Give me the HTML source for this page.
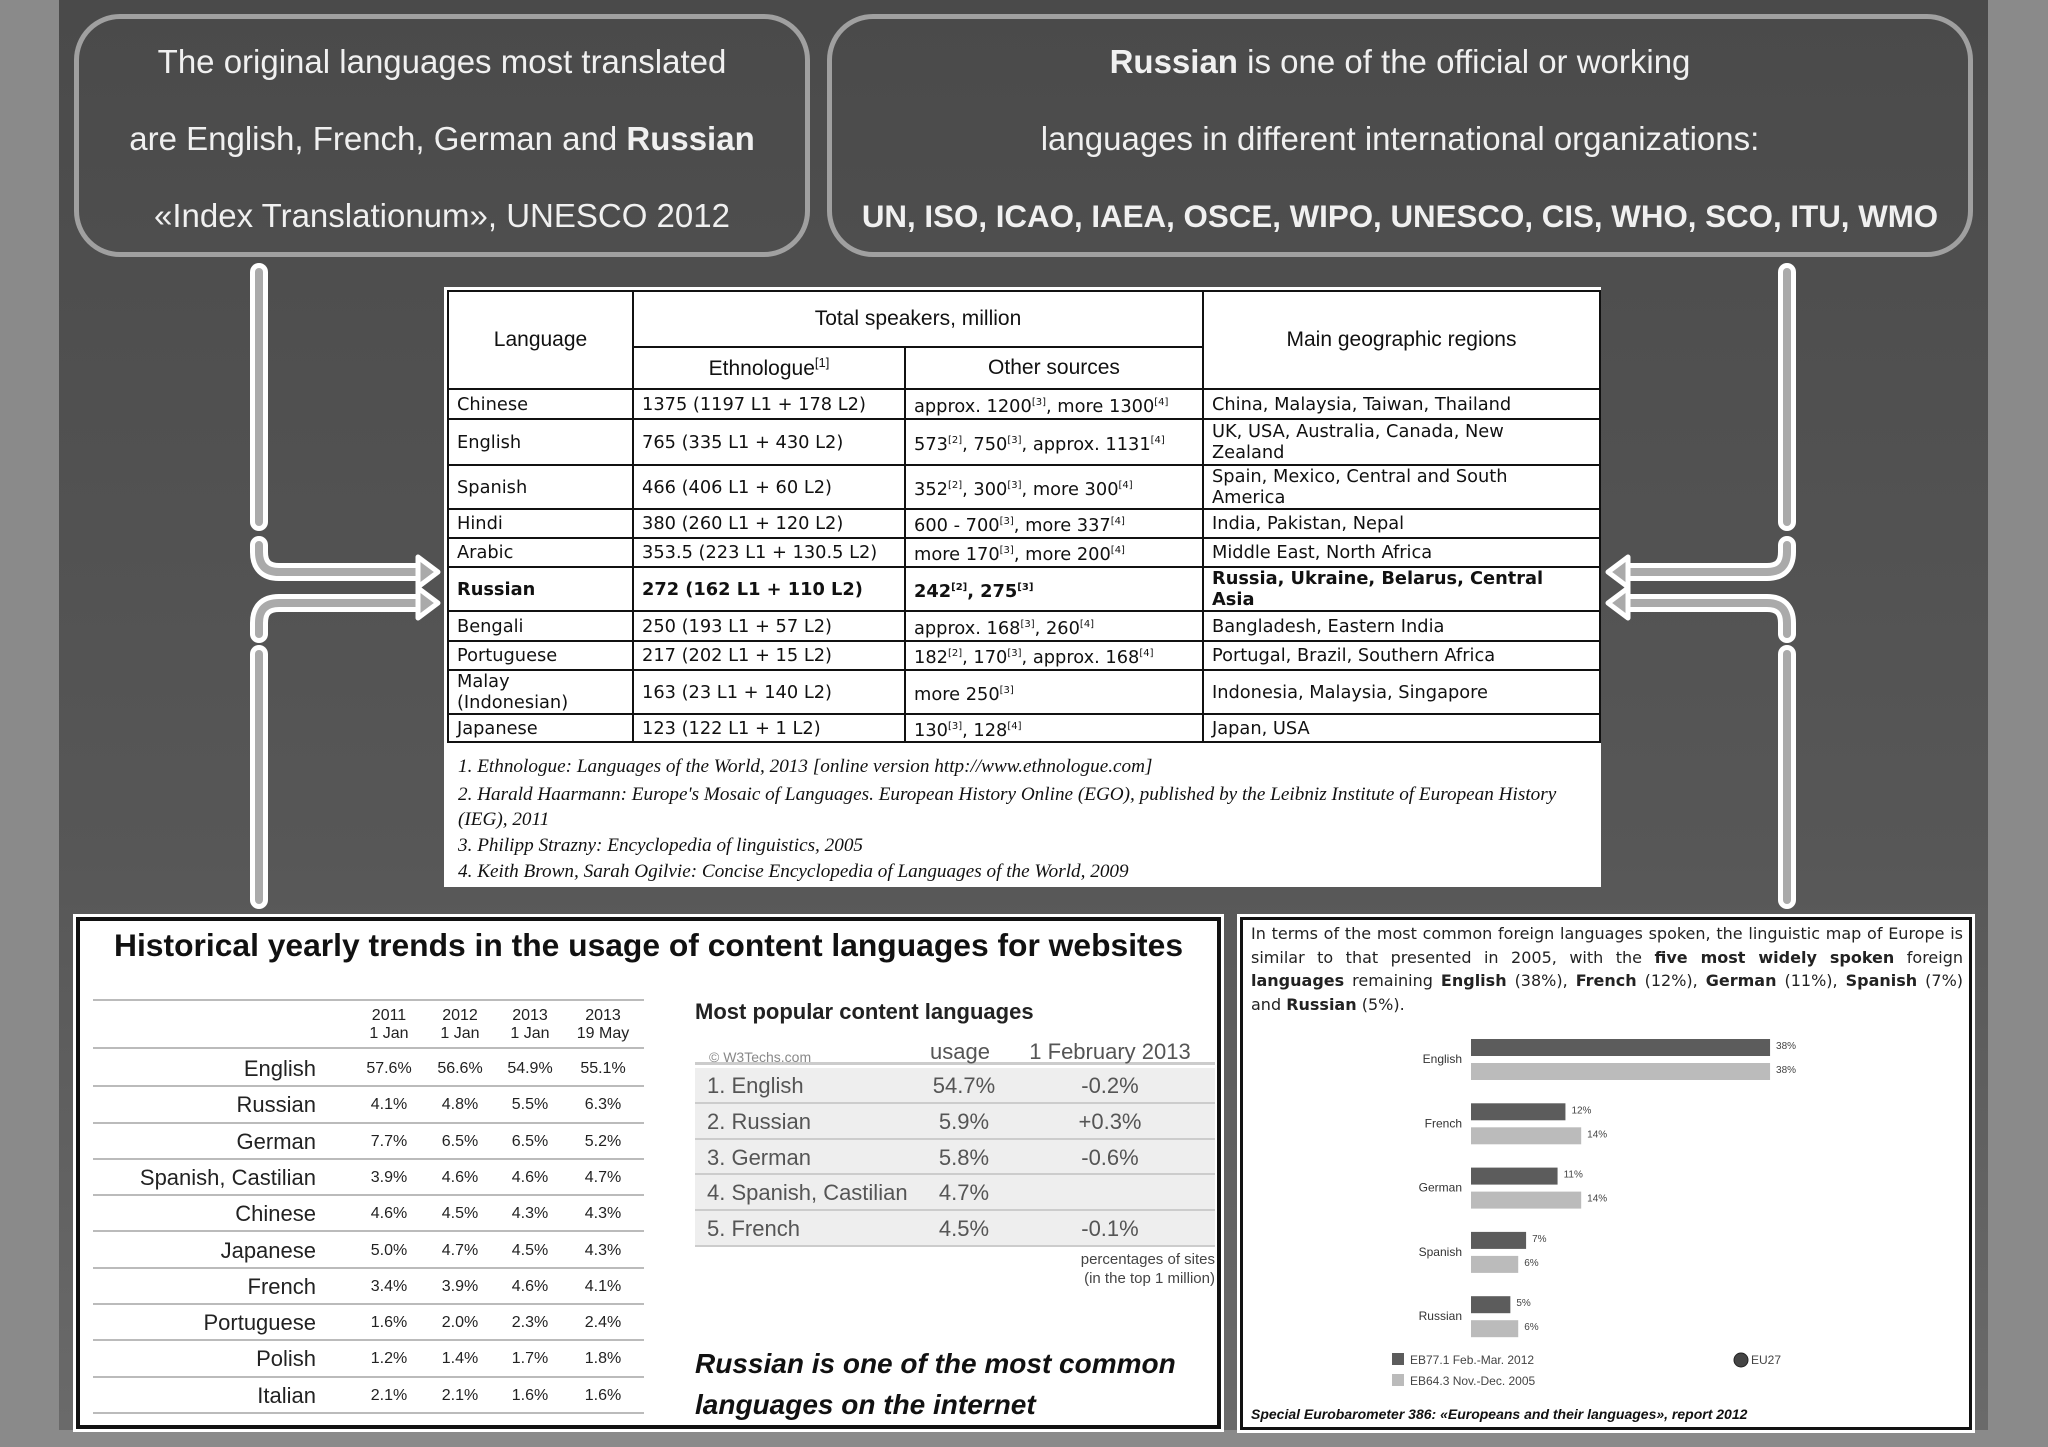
<!DOCTYPE html>
<html><head><meta charset="utf-8">
<style>
*{margin:0;padding:0;box-sizing:border-box}
body{width:2048px;height:1447px;background:#8a8a8a;position:relative;overflow:hidden;font-family:"Liberation Sans",sans-serif}
.abs{position:absolute}
#bg{left:59px;top:0;width:1929px;height:1430px;background:linear-gradient(#4a4a4a,#575757 60%,#6a6a6a)}
.tbox{border:5px solid #a0a0a0;border-radius:46px;color:#f0f0f0;font-size:33px;text-align:center}
.tbox div{position:absolute;left:0;right:0;white-space:nowrap}
#main{left:444px;top:287px;width:1157px;height:600px;background:#fff}
#lt{position:absolute;left:3px;top:3px;border-collapse:collapse;table-layout:fixed;font-family:"DejaVu Sans",sans-serif;font-size:17.8px;color:#111}
#lt td{border:2px solid #111;padding:0 8px;line-height:21px;vertical-align:middle;overflow:hidden}
#lt td.rg{padding-right:50px}
#lt th{border:2px solid #111;font-family:"Liberation Sans",sans-serif;font-weight:normal;font-size:21px}
#lt sup{font-size:10px}
#lt tr.ru td{font-weight:bold;border-top:2px dashed #111;border-bottom:2px dashed #111}
.fn{position:absolute;left:14px;font-style:italic;font-size:19.2px;color:#111;font-family:"Liberation Serif",serif;white-space:nowrap}
#bl{left:76px;top:917px;width:1145px;height:512px;background:#fff;border:4px solid #111;outline:3px solid #fff}
#br{left:1240px;top:917px;width:732px;height:513px;background:#fff;border:3px solid #111;outline:3px solid #fff}
.tr{position:absolute;left:13px;width:551px;height:36.3px;border-bottom:2px solid #bbb;font-size:16px;color:#222}
.tr span{position:absolute;top:9px;width:70px;text-align:center}
.tr .lab{left:0;width:223px;text-align:right;font-size:22px;top:5px;color:#222}
.pr{position:absolute;left:615px;width:520px;height:35.8px;background:#eee;border-bottom:2px solid #ccc;font-size:22px;color:#555}
.pr span{position:absolute;top:5px}
</style></head><body>
<div id="bg" class="abs"></div>

<div class="abs tbox" style="left:74px;top:14px;width:736px;height:243px">
<div style="top:24px">The original languages most translated</div>
<div style="top:101px">are English, French, German and <b>Russian</b></div>
<div style="top:178px">«Index Translationum», UNESCO 2012</div>
</div>
<div class="abs tbox" style="left:827px;top:14px;width:1146px;height:243px">
<div style="top:24px"><b>Russian</b> is one of the official or working</div>
<div style="top:101px">languages in different international organizations:</div>
<div style="top:180px;font-weight:bold;font-size:31.3px">UN, ISO, ICAO, IAEA, OSCE, WIPO, UNESCO, CIS, WHO, SCO, ITU, WMO</div>
</div>

<svg class="abs" style="left:0;top:0" width="2048" height="1447">
<g fill="none" stroke-linecap="round" stroke-linejoin="round">
<g stroke="#fff" stroke-width="18">
<path d="M259 272V522"/><path d="M259 545V552Q259 572 279 572H420"/><path d="M420 603H279Q259 603 259 623V634"/><path d="M259 654V900"/>
<path d="M1787 272V522"/><path d="M1787 545V552Q1787 572 1767 572H1626"/><path d="M1626 603H1767Q1787 603 1787 623V634"/><path d="M1787 654V900"/>
</g>
<g stroke="#aaa" stroke-width="8">
<path d="M259 272V522"/><path d="M259 545V552Q259 572 279 572H420"/><path d="M420 603H279Q259 603 259 623V634"/><path d="M259 654V900"/>
<path d="M1787 272V522"/><path d="M1787 545V552Q1787 572 1767 572H1626"/><path d="M1626 603H1767Q1787 603 1787 623V634"/><path d="M1787 654V900"/>
</g></g>
<g fill="#aaa" stroke="#fff" stroke-width="5" stroke-linejoin="round">
<polygon points="418,557 438,572 418,587"/><polygon points="418,588 438,603 418,618"/>
<polygon points="1628,557 1608,572 1628,587"/><polygon points="1628,588 1608,603 1628,618"/>
</g>
</svg>

<div id="main" class="abs">
<table id="lt">
<colgroup><col style="width:185px"><col style="width:272px"><col style="width:298px"><col style="width:397px"></colgroup>
<tr style="height:56px"><th rowspan="2">Language</th><th colspan="2">Total speakers, million</th><th rowspan="2">Main geographic regions</th></tr>
<tr style="height:42px"><th>Ethnologue<sup style="font-size:13px">[1]</sup></th><th>Other sources</th></tr>
<tr style="height:30px"><td>Chinese</td><td>1375 (1197 L1 + 178 L2)</td><td>approx. 1200<sup>[3]</sup>, more 1300<sup>[4]</sup></td><td class="rg">China, Malaysia, Taiwan, Thailand</td></tr>
<tr style="height:46px"><td>English</td><td>765 (335 L1 + 430 L2)</td><td>573<sup>[2]</sup>, 750<sup>[3]</sup>, approx. 1131<sup>[4]</sup></td><td class="rg">UK, USA, Australia, Canada, New Zealand</td></tr>
<tr style="height:44px"><td>Spanish</td><td>466 (406 L1 + 60 L2)</td><td>352<sup>[2]</sup>, 300<sup>[3]</sup>, more 300<sup>[4]</sup></td><td class="rg">Spain, Mexico, Central and South America</td></tr>
<tr style="height:29px"><td>Hindi</td><td>380 (260 L1 + 120 L2)</td><td>600 - 700<sup>[3]</sup>, more 337<sup>[4]</sup></td><td class="rg">India, Pakistan, Nepal</td></tr>
<tr style="height:29px"><td>Arabic</td><td>353.5 (223 L1 + 130.5 L2)</td><td>more 170<sup>[3]</sup>, more 200<sup>[4]</sup></td><td class="rg">Middle East, North Africa</td></tr>
<tr class="ru" style="height:44px"><td>Russian</td><td>272 (162 L1 + 110 L2)</td><td>242<sup>[2]</sup>, 275<sup>[3]</sup></td><td class="rg">Russia, Ukraine, Belarus, Central Asia</td></tr>
<tr style="height:30px"><td>Bengali</td><td>250 (193 L1 + 57 L2)</td><td>approx. 168<sup>[3]</sup>, 260<sup>[4]</sup></td><td class="rg">Bangladesh, Eastern India</td></tr>
<tr style="height:29px"><td>Portuguese</td><td>217 (202 L1 + 15 L2)</td><td>182<sup>[2]</sup>, 170<sup>[3]</sup>, approx. 168<sup>[4]</sup></td><td class="rg">Portugal, Brazil, Southern Africa</td></tr>
<tr style="height:44px"><td>Malay (Indonesian)</td><td>163 (23 L1 + 140 L2)</td><td>more 250<sup>[3]</sup></td><td class="rg">Indonesia, Malaysia, Singapore</td></tr>
<tr style="height:28px"><td>Japanese</td><td>123 (122 L1 + 1 L2)</td><td>130<sup>[3]</sup>, 128<sup>[4]</sup></td><td class="rg">Japan, USA</td></tr>
</table>
<div class="fn" style="top:469px">1. Ethnologue: Languages of the World, 2013 [online version http://www.ethnologue.com]</div>
<div class="fn" style="top:497px">2. Harald Haarmann: Europe's Mosaic of Languages. European History Online (EGO), published by the Leibniz Institute of European History</div>
<div class="fn" style="top:522px">(IEG), 2011</div>
<div class="fn" style="top:548px">3. Philipp Strazny: Encyclopedia of linguistics, 2005</div>
<div class="fn" style="top:574px">4. Keith Brown, Sarah Ogilvie: Concise Encyclopedia of Languages of the World, 2009</div>
</div>

<div id="bl" class="abs">
<div class="abs" style="left:34px;top:6px;font-size:31.8px;font-weight:bold;color:#111;white-space:nowrap">Historical yearly trends in the usage of content languages for websites</div>
<div class="abs" style="left:13px;top:78px;width:551px;height:50px;border-top:2px solid #bbb;border-bottom:2px solid #bbb;font-size:16px;color:#222">
<span class="abs" style="left:261px;top:6px;width:70px;text-align:center">2011<br>1 Jan</span>
<span class="abs" style="left:332px;top:6px;width:70px;text-align:center">2012<br>1 Jan</span>
<span class="abs" style="left:402px;top:6px;width:70px;text-align:center">2013<br>1 Jan</span>
<span class="abs" style="left:475px;top:6px;width:70px;text-align:center">2013<br>19 May</span>
</div>
<div id="trows"></div>
<div class="abs" style="left:615px;top:78px;font-size:22px;font-weight:bold;color:#222">Most popular content languages</div>
<div class="abs" style="left:615px;top:122px;width:520px;height:22px;border-bottom:3px solid #ccc;color:#555">
<span class="abs" style="left:14px;top:6px;font-size:14px;color:#888">© W3Techs.com</span>
<span class="abs" style="left:200px;top:-4px;width:130px;text-align:center;font-size:22px">usage</span>
<span class="abs" style="left:310px;top:-4px;width:210px;text-align:center;font-size:22px">1 February 2013</span>
</div>
<div id="prows"></div>
<div class="abs" style="left:835px;top:329px;width:300px;text-align:right;font-size:15px;color:#444;line-height:19px">percentages of sites<br>(in the top 1 million)</div>
<div class="abs" style="left:615px;top:422px;font-size:28px;font-weight:bold;font-style:italic;color:#111;line-height:41px">Russian is one of the most common<br>languages on the internet</div>
</div>

<div id="br" class="abs">
<div class="abs" style="left:8px;top:2px;width:712px;font-family:'DejaVu Sans',sans-serif;font-size:16px;line-height:23.5px;text-align:justify;color:#222">In terms of the most common foreign languages spoken, the linguistic map of Europe is similar to that presented in 2005, with the <b>five most widely spoken</b> foreign <b>languages</b> remaining <b>English</b> (38%), <b>French</b> (12%), <b>German</b> (11%), <b>Spanish</b> (7%) and <b>Russian</b> (5%).</div>
<svg id="chart" class="abs" style="left:0;top:0" width="726" height="507"></svg>
<div class="abs" style="left:8px;top:486px;font-size:14px;font-weight:bold;font-style:italic;color:#111;white-space:nowrap">Special Eurobarometer 386: «Europeans and their languages», report 2012</div>
</div>

<script>
// trends table data
const tLangs=['English','Russian','German','Spanish, Castilian','Chinese','Japanese','French','Portuguese','Polish','Italian'];
const t2011=['57.6%','4.1%','7.7%','3.9%','4.6%','5.0%','3.4%','1.6%','1.2%','2.1%'];
const t2012=['56.6%','4.8%','6.5%','4.6%','4.5%','4.7%','3.9%','2.0%','1.4%','2.1%'];
const t2013=['54.9%','5.5%','6.5%','4.6%','4.3%','4.5%','4.6%','2.3%','1.7%','1.6%'];
const t2013m=['55.1%','6.3%','5.2%','4.7%','4.3%','4.3%','4.1%','2.4%','1.8%','1.6%'];
const pLangs=['1. English','2. Russian','3. German','4. Spanish, Castilian','5. French'];
const pUsage=['54.7%','5.9%','5.8%','4.7%','4.5%'];
const pChange=['-0.2%','+0.3%','-0.6%','','-0.1%'];
// bar chart data
const cats=['English','French','German','Spanish','Russian'];
const v2012=[38,12,11,7,5];
const v2005=[38,14,14,6,6];

const tr=document.getElementById('trows');
const cols=[261,332,402,475];
tLangs.forEach((l,i)=>{
  const r=document.createElement('div');
  r.className='tr';r.style.top=(130+i*36.3)+'px';
  
  
  let h='<span class="lab">'+l+'</span>';
  [t2011,t2012,t2013,t2013m].forEach((a,j)=>{h+='<span style="left:'+cols[j]+'px">'+a[i]+'</span>';});
  r.innerHTML=h;tr.appendChild(r);
});
const pr=document.getElementById('prows');
pLangs.forEach((l,i)=>{
  const r=document.createElement('div');
  r.className='pr';r.style.top=(147+i*35.8)+'px';
  
  
  r.innerHTML='<span style="left:12px">'+l+'</span><span style="left:204px;width:130px;text-align:center">'+pUsage[i]+'</span><span style="left:310px;width:210px;text-align:center">'+pChange[i]+'</span>';
  pr.appendChild(r);
});

const svg=document.getElementById('chart');
const NS='http://www.w3.org/2000/svg';
const x0=228, pxPer=7.87, y0=119, gStep=64.3, bh=17;
const xs=v=>x0+v*pxPer;
function mk(tag,attrs){const e=document.createElementNS(NS,tag);for(const k in attrs)e.setAttribute(k,attrs[k]);svg.appendChild(e);return e;}
cats.forEach((c,i)=>{
  const gy=y0+i*gStep;
  const t=mk('text',{x:x0-9,y:gy+24,'text-anchor':'end','font-size':12,fill:'#333','font-family':'Liberation Sans'});
  t.textContent=c;
  
  
  [[v2012,'#5c5c5c',0],[v2005,'#bbb',24]].forEach(([arr,col,off])=>{
    const b=mk('rect',{x:x0,y:gy+off,width:xs(arr[i])-x0,height:bh,fill:col});
    
    
    const lt=mk('text',{x:xs(arr[i])+6,y:gy+off+10,'font-size':10,fill:'#444','font-family':'Liberation Sans'});
    lt.textContent=arr[i]+'%';
    
    
  });
});
const l1=mk('rect',{x:149,y:433,width:12,height:12,fill:'#5c5c5c'});


const l2=mk('rect',{x:149,y:454,width:12,height:12,fill:'#bbb'});


const lt1=mk('text',{x:167,y:444,'font-size':12,fill:'#444'});lt1.textContent='EB77.1 Feb.-Mar. 2012';


const lt2=mk('text',{x:167,y:465,'font-size':12,fill:'#444'});lt2.textContent='EB64.3 Nov.-Dec. 2005';


const ci=mk('circle',{cx:498,cy:440,r:7,fill:'#444',stroke:'#222'});


const ct=mk('text',{x:508,y:444,'font-size':12,fill:'#444'});ct.textContent='EU27';


</script>
</body></html>
